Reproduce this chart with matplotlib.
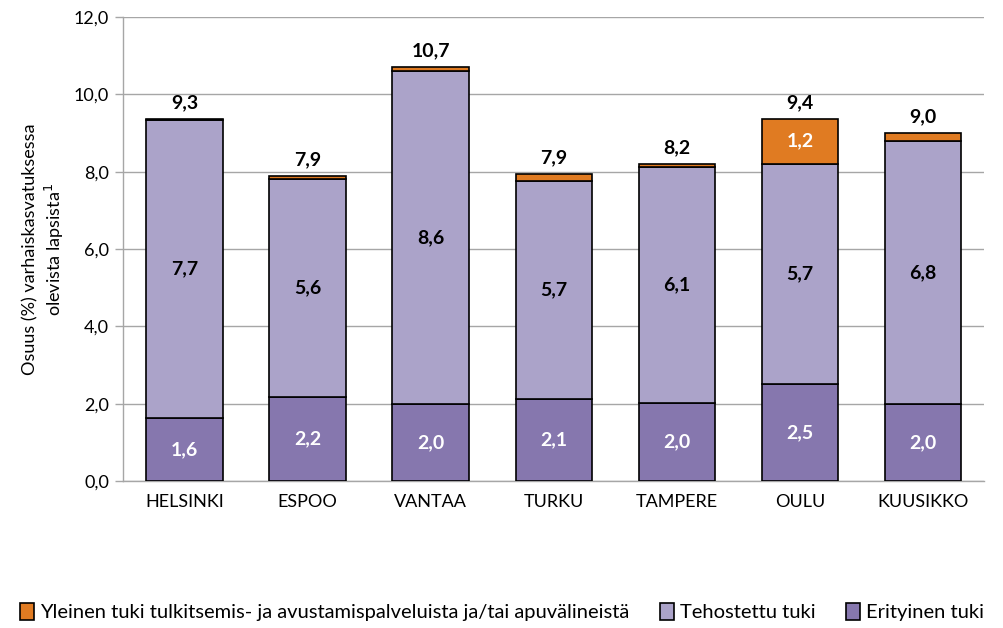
import matplotlib
matplotlib.use("Agg")
import matplotlib.pyplot as plt
from matplotlib.ticker import FuncFormatter, MultipleLocator
import numpy as np

plt.rcParams["font.family"] = ["Lato", "DejaVu Sans"]

cities = ["HELSINKI", "ESPOO", "VANTAA", "TURKU", "TAMPERE", "OULU", "KUUSIKKO"]
erityinen = [1.63, 2.17, 1.99, 2.12, 2.03, 2.51, 1.98]
tehostettu = [7.70, 5.65, 8.60, 5.63, 6.08, 5.70, 6.80]
yleinen = [0.02, 0.06, 0.12, 0.18, 0.10, 1.16, 0.22]

erityinen_lbl = ["1,6", "2,2", "2,0", "2,1", "2,0", "2,5", "2,0"]
tehostettu_lbl = ["7,7", "5,6", "8,6", "5,7", "6,1", "5,7", "6,8"]
yleinen_lbl = ["", "", "", "", "", "1,2", ""]
total_lbl = ["9,3", "7,9", "10,7", "7,9", "8,2", "9,4", "9,0"]

ORANGE = "#E07B22"
LIGHT = "#ABA3C9"
DARK = "#8677AE"
GRID = "#A6A6A6"

fig = plt.figure(figsize=(10.04, 6.28), dpi=100)
ax = fig.add_axes([0.1225, 0.234, 0.858, 0.739])

x = np.arange(len(cities))
w = 0.62
ery = np.array(erityinen)
teh = np.array(tehostettu)
yle = np.array(yleinen)

b1 = ax.bar(x, ery, w, color=DARK, edgecolor="black", linewidth=1.2, zorder=3,
            label="Erityinen tuki")
b2 = ax.bar(x, teh, w, bottom=ery, color=LIGHT, edgecolor="black", linewidth=1.2, zorder=3,
            label="Tehostettu tuki")
b3 = ax.bar(x, yle, w, bottom=ery + teh, color=ORANGE, edgecolor="black", linewidth=1.2, zorder=3,
            label="Yleinen tuki tulkitsemis- ja avustamispalveluista ja/tai apuvälineistä")

for i in range(len(cities)):
    ax.text(x[i], ery[i] / 2, erityinen_lbl[i], ha="center", va="center",
            color="white", fontsize=14, fontweight="bold", zorder=4)
    ax.text(x[i], ery[i] + teh[i] / 2, tehostettu_lbl[i], ha="center", va="center",
            color="black", fontsize=14, fontweight="bold", zorder=4)
    if yleinen_lbl[i]:
        ax.text(x[i], ery[i] + teh[i] + yle[i] / 2, yleinen_lbl[i], ha="center", va="center",
                color="white", fontsize=14, fontweight="bold", zorder=4)
    ax.text(x[i], ery[i] + teh[i] + yle[i] + 0.2, total_lbl[i], ha="center", va="bottom",
            color="black", fontsize=14, fontweight="bold", zorder=4)

ax.set_ylim(0, 12)
ax.set_xlim(-0.5, len(cities) - 0.5)
ax.yaxis.set_major_locator(MultipleLocator(2))
ax.yaxis.set_major_formatter(FuncFormatter(lambda v, p: f"{v:.1f}".replace(".", ",")))
ax.set_xticks(x)
ax.set_xticklabels(cities)
ax.tick_params(axis="x", length=0, labelsize=13, pad=9)
ax.tick_params(axis="y", length=6, width=1, color=GRID, labelsize=13, pad=4)
ax.yaxis.grid(True, color=GRID, linewidth=1)
ax.set_axisbelow(True)
for s in ("top", "right"):
    ax.spines[s].set_visible(False)
for s in ("left", "bottom"):
    ax.spines[s].set_color(GRID)
    ax.spines[s].set_linewidth(1)

ax.set_ylabel("Osuus (%) varhaiskasvatuksessa\nolevista lapsista$^{1}$", fontsize=13, labelpad=6)

handles = [b3, b2, b1]
fig.legend(handles, [h.get_label() for h in handles], loc="center", bbox_to_anchor=(0.5, 0.025),
           ncol=3, frameon=False, fontsize=14.5, handlelength=0.7, handleheight=0.9,
           handletextpad=0.3, columnspacing=1.5)

fig.savefig("out.png", dpi=100, facecolor="white")
